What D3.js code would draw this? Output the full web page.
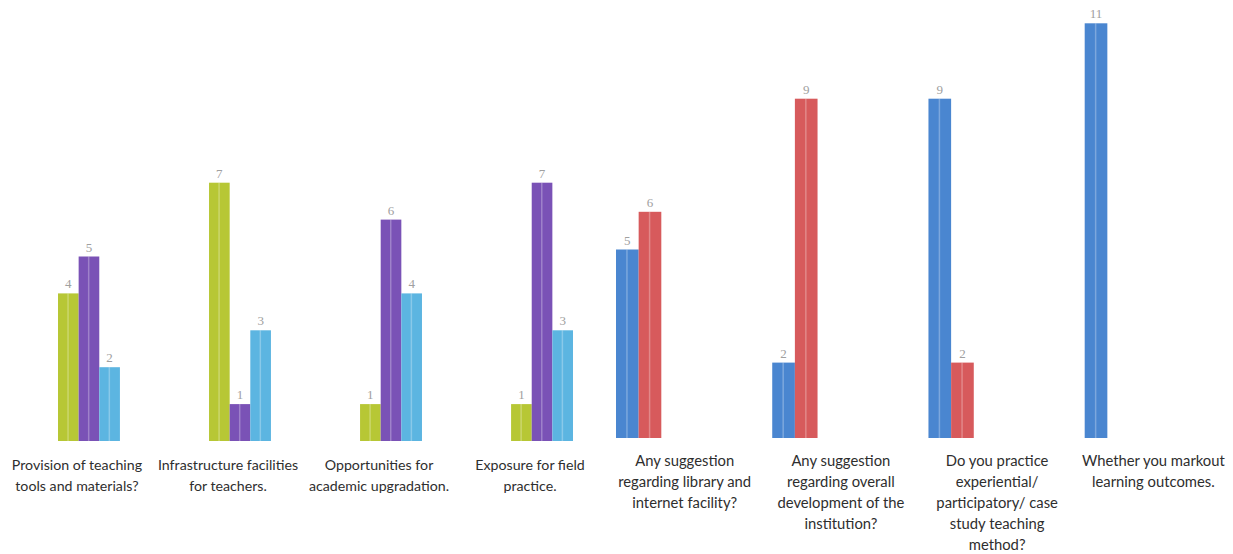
<!DOCTYPE html>
<html>
<head>
<meta charset="utf-8">
<script src="https://cdn.jsdelivr.net/npm/d3@7"></script>
<style>
  html, body { margin: 0; padding: 0; background: #ffffff; }
  svg { display: block; }
</style>
</head>
<body>
<svg id="chart" width="1233" height="554"></svg>
<script>
// ---------- DATA ----------
const leftCategories = [
  "Provision of teaching tools and materials?",
  "Infrastructure facilities for teachers.",
  "Opportunities for academic upgradation.",
  "Exposure for field practice."
];
const leftLabelLines = [
  ["Provision of teaching", "tools and materials?"],
  ["Infrastructure facilities", "for teachers."],
  ["Opportunities for", "academic upgradation."],
  ["Exposure for field", "practice."]
];
const leftSeriesNames = ["Series 1", "Series 2", "Series 3"];
const leftSeries1 = [4, 7, 1, 1];
const leftSeries2 = [5, 1, 6, 7];
const leftSeries3 = [2, 3, 4, 3];

const rightCategories = [
  "Any suggestion regarding library and internet facility?",
  "Any suggestion regarding overall development of the institution?",
  "Do you practice experiential/ participatory/ case study teaching method?",
  "Whether you markout learning outcomes."
];
const rightLabelLines = [
  ["Any suggestion", "regarding library and", "internet facility?"],
  ["Any suggestion", "regarding overall", "development of the", "institution?"],
  ["Do you practice", "experiential/", "participatory/ case", "study teaching", "method?"],
  ["Whether you markout", "learning outcomes."]
];
const rightSeriesNames = ["Yes", "No"];
const rightYes = [5, 2, 9, 11];
const rightNo  = [6, 9, 2, null];

// ---------- STYLE ----------
const leftColors  = ["#b7c735", "#7a52b6", "#5cb5e1"];
const rightColors = ["#4a86d0", "#d75a5c"];

const svg = d3.select("#chart");

function drawPanel(cfg) {
  const x0 = d3.scaleBand().domain(cfg.categories).range(cfg.xRange)
    .paddingInner(cfg.padding).paddingOuter(0);
  const x1 = d3.scaleBand().domain(cfg.seriesNames).range([0, x0.bandwidth()]).padding(0);
  const y = d3.scaleLinear().domain([0, cfg.yMax]).range([cfg.baseline, cfg.baseline - cfg.yMax * cfg.unit]);

  const rows = [];
  cfg.categories.forEach((c, i) => {
    cfg.seriesNames.forEach((s, j) => {
      const v = cfg.series[j][i];
      if (v != null) rows.push({ c, s, v, color: cfg.colors[j] });
    });
  });

  const g = svg.append("g");
  const bars = g.selectAll("g.bar").data(rows).join("g").attr("class", "bar");
  bars.append("rect")
    .attr("x", d => x0(d.c) + x1(d.s))
    .attr("y", d => y(d.v))
    .attr("width", x1.bandwidth())
    .attr("height", d => y(0) - y(d.v))
    .attr("fill", d => d.color);
  // faint light stripe (scan look)
  bars.append("rect")
    .attr("x", d => x0(d.c) + x1(d.s) + x1.bandwidth() * 0.45)
    .attr("y", d => y(d.v))
    .attr("width", 1.5)
    .attr("height", d => y(0) - y(d.v))
    .attr("fill", "#ffffff")
    .attr("opacity", 0.28);
  bars.append("text")
    .attr("x", d => x0(d.c) + x1(d.s) + x1.bandwidth() / 2)
    .attr("y", d => y(d.v) - 5)
    .attr("text-anchor", "middle")
    .attr("font-family", "'Liberation Serif', serif")
    .attr("font-size", 13)
    .attr("fill", "#a0a0a0")
    .text(d => d.v);

  // category labels
  const lab = g.selectAll("text.cat").data(cfg.categories).join("text")
    .attr("class", "cat")
    .attr("text-anchor", "middle")
    .attr("font-family", "Lato, 'Open Sans', sans-serif")
    .attr("font-size", cfg.fontSize)
    .attr("fill", "#2e2e2e")
    .attr("transform", d => `translate(${x0(d) + x0.bandwidth() / 2 + cfg.labelDx},${cfg.labelY})`);
  lab.each(function (d, i) {
    d3.select(this).selectAll("tspan").data(cfg.labelLines[i]).join("tspan")
      .attr("x", 0)
      .attr("dy", (t, k) => k === 0 ? 0 : cfg.lineH)
      .text(t => t);
  });
}

drawPanel({
  categories: leftCategories,
  labelLines: leftLabelLines,
  seriesNames: leftSeriesNames,
  series: [leftSeries1, leftSeries2, leftSeries3],
  colors: leftColors,
  xRange: [58, 573],
  padding: 0.59,
  baseline: 441,
  unit: 36.9,
  yMax: 7,
  labelDx: -12,
  labelY: 470,
  lineH: 20.5,
  fontSize: 14.2
});

drawPanel({
  categories: rightCategories,
  labelLines: rightLabelLines,
  seriesNames: rightSeriesNames,
  series: [rightYes, rightNo],
  colors: rightColors,
  xRange: [616, 1130],
  padding: 0.71,
  baseline: 438,
  unit: 37.7,
  yMax: 11,
  labelDx: 46,
  labelY: 466,
  lineH: 21,
  fontSize: 14.8
});
</script>
</body>
</html>
